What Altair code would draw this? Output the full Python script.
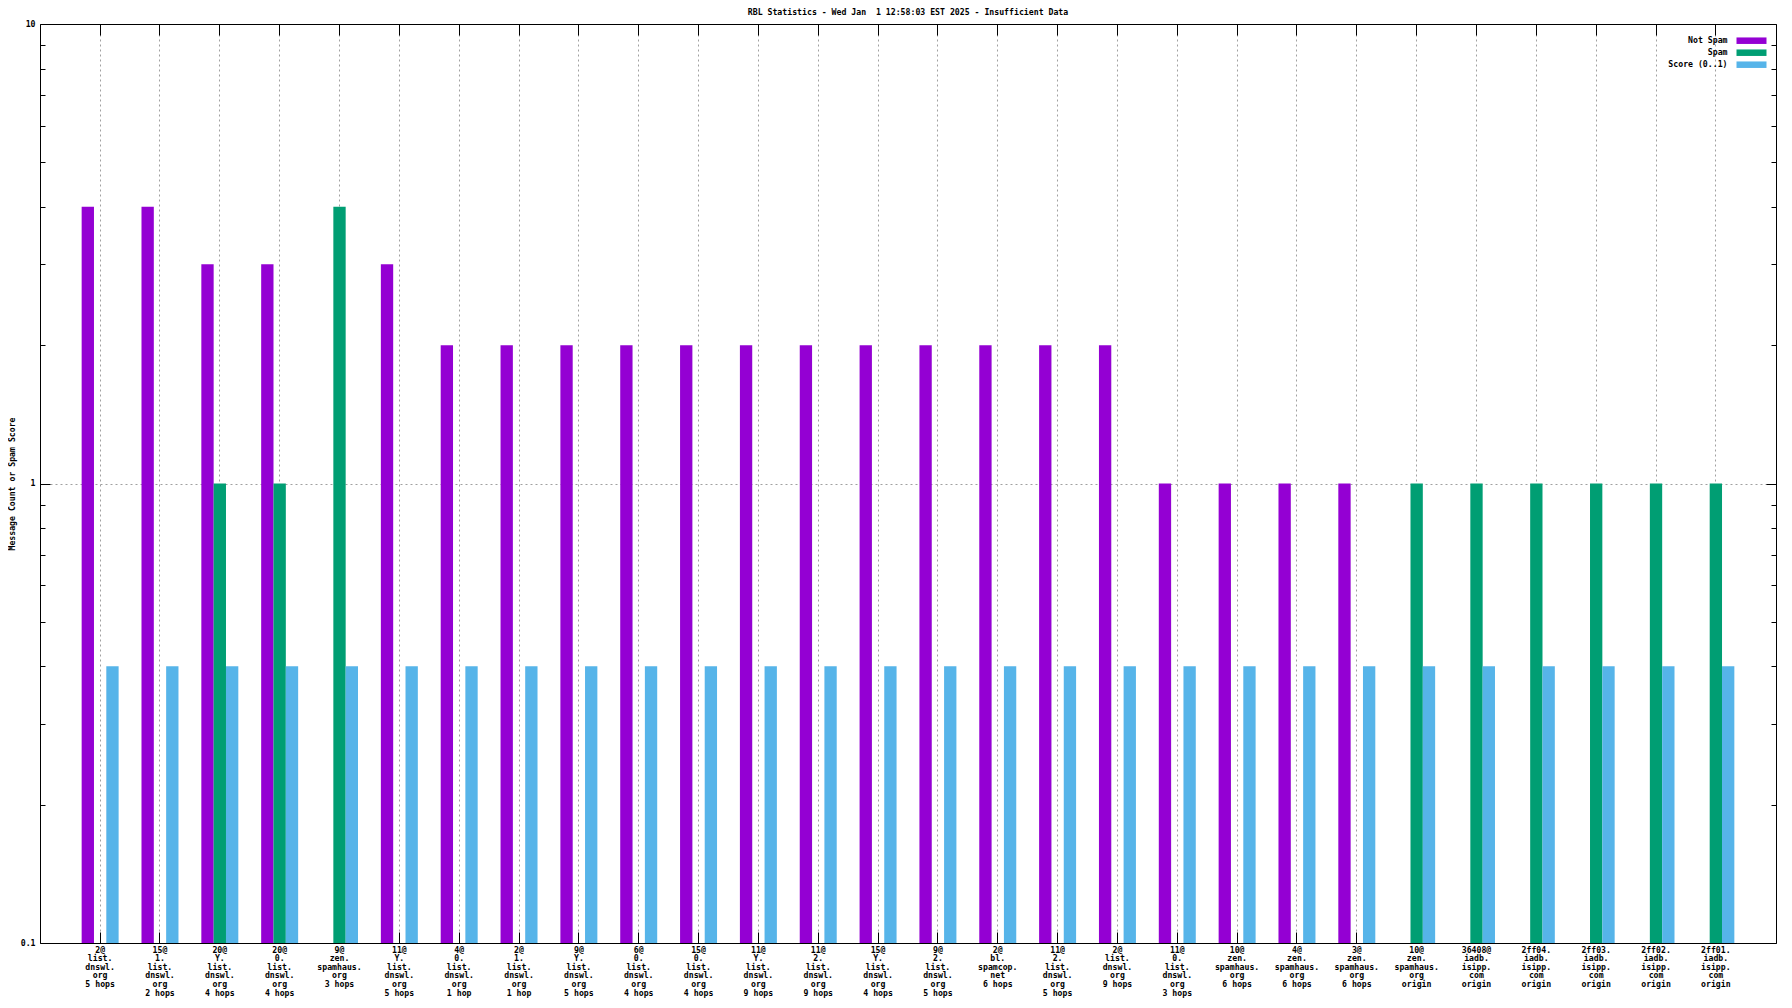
import altair as alt
import pandas as pd

# ---------------- data ----------------
labels = [
    "2@|list.|dnswl.|org|5 hops",
    "15@|1.|list.|dnswl.|org|2 hops",
    "20@|Y.|list.|dnswl.|org|4 hops",
    "20@|0.|list.|dnswl.|org|4 hops",
    "9@|zen.|spamhaus.|org|3 hops",
    "11@|Y.|list.|dnswl.|org|5 hops",
    "4@|0.|list.|dnswl.|org|1 hop",
    "2@|1.|list.|dnswl.|org|1 hop",
    "9@|Y.|list.|dnswl.|org|5 hops",
    "6@|0.|list.|dnswl.|org|4 hops",
    "15@|0.|list.|dnswl.|org|4 hops",
    "11@|Y.|list.|dnswl.|org|9 hops",
    "11@|2.|list.|dnswl.|org|9 hops",
    "15@|Y.|list.|dnswl.|org|4 hops",
    "9@|2.|list.|dnswl.|org|5 hops",
    "2@|bl.|spamcop.|net|6 hops",
    "11@|2.|list.|dnswl.|org|5 hops",
    "2@|list.|dnswl.|org|9 hops",
    "11@|0.|list.|dnswl.|org|3 hops",
    "10@|zen.|spamhaus.|org|6 hops",
    "4@|zen.|spamhaus.|org|6 hops",
    "3@|zen.|spamhaus.|org|6 hops",
    "10@|zen.|spamhaus.|org|origin",
    "36408@|iadb.|isipp.|com|origin",
    "2ff04.|iadb.|isipp.|com|origin",
    "2ff03.|iadb.|isipp.|com|origin",
    "2ff02.|iadb.|isipp.|com|origin",
    "2ff01.|iadb.|isipp.|com|origin",
]
not_spam = [4, 4, 3, 3, 0, 3, 2, 2, 2, 2, 2, 2, 2, 2, 2, 2, 2, 2, 1, 1, 1, 1, 0, 0, 0, 0, 0, 0]
spam = [0, 0, 1, 1, 4, 0, 0, 0, 0, 0, 0, 0, 0, 0, 0, 0, 0, 0, 0, 0, 0, 0, 1, 1, 1, 1, 1, 1]
score = [0.4, 0.4, 0.4, 0.4, 0.4, 0.4, 0.4, 0.4, 0.4, 0.4, 0.4, 0.4, 0.4, 0.4,
         0.4, 0.4, 0.4, 0.4, 0.4, 0.4, 0.4, 0.4, 0.4, 0.4, 0.4, 0.4, 0.4, 0.4]
series = ["Not Spam", "Spam", "Score (0..1)"]
colors = ["#9400D3", "#009E73", "#56B4E9"]
y_major = [0.1, 1, 10]
y_minor = [0.2, 0.3, 0.4, 0.5, 0.6, 0.7, 0.8, 0.9, 2, 3, 4, 5, 6, 7, 8, 9]
title_text = "RBL Statistics - Wed Jan\u00a0 1 12:58:03 EST 2025 - Insufficient Data"
y_title = "Message Count or Spam Score"

rows = []
for i, lab in enumerate(labels):
    for s, vals in zip(series, [not_spam, spam, score]):
        if vals[i] > 0:
            rows.append({"label": lab, "series": s, "value": vals[i]})
df = pd.DataFrame(rows)

FONT = "DejaVu Sans Mono"
FS = 8.2
FW = "bold"
W, H = 1736, 919
GRID = "#a0a0a0"

xscale = alt.Scale(domain=labels, paddingInner=0.382, paddingOuter=0.696)
yscale = alt.Scale(type="log", domain=[0.1, 10], nice=False)


def X(axis):
    return alt.X("label:N", scale=xscale, title=None, axis=axis)


def Y(axis):
    return alt.Y("value:Q", scale=yscale, title=None, axis=axis)


def blank(**kw):
    base = dict(labels=False, ticks=False, domain=False, grid=False, title=None)
    base.update(kw)
    return alt.Axis(**base)


# --- axes ---
x_labels = alt.Axis(
    orient="bottom", labelExpr="split(datum.label, '|')", labelAngle=0,
    labelAlign="center", labelBaseline="top", labelPadding=3,
    labelLineHeight=8.6, labelFont=FONT, labelFontSize=FS, labelFontWeight=FW,
    labelColor="black", labelOverlap=False, labelLimit=300, ticks=False, domain=False,
    grid=True, gridColor=GRID, gridDash=[2, 3], gridWidth=1,
    bandPosition=0.5, title=None,
)
y_labels = alt.Axis(
    orient="left", values=y_major, format="~g", labelFont=FONT, labelFontSize=FS,
    labelFontWeight=FW, labelColor="black", labelPadding=5, ticks=False, domain=False,
    grid=True, gridColor=GRID, gridDash=[2, 3], gridWidth=1,
    title=y_title, titleFont=FONT, titleFontSize=FS, titleFontWeight=FW,
    titleColor="black", titleAngle=270, titleX=-28, titleY=H / 2,
    titleAlign="center", titleBaseline="middle",
)

bars = alt.Chart(df).mark_bar().encode(
    x=X(x_labels),
    xOffset=alt.XOffset("series:N", scale=alt.Scale(domain=series, paddingInner=0, paddingOuter=0)),
    y=Y(y_labels),
    y2=alt.datum(0.1),
    color=alt.Color(
        "series:N",
        scale=alt.Scale(domain=series, range=colors),
        legend=alt.Legend(
            title=None, orient="none", legendX=1682.2, legendY=11.7,
            symbolType="M-3,-0.65L3,-0.65L3,0.65L-3,0.65Z", symbolSize=100,
            symbolStrokeWidth=0, symbolOpacity=1, symbolOffset=24.3,
            labelAlign="right", labelOffset={"expr": "-29"}, labelFont=FONT,
            labelFontSize=FS, labelFontWeight=FW, labelColor="black",
            rowPadding=3, padding=0, labelLimit=300,
        ),
    ),
)


def ghost(xaxis, yaxis):
    return alt.Chart(df).mark_bar(opacity=0).encode(
        x=X(xaxis), y=Y(yaxis), y2=alt.datum(0.1)
    )


frame1 = ghost(
    blank(orient="bottom", domain=True, domainColor="black", domainWidth=1, zindex=1),
    blank(orient="left", domain=True, domainColor="black", domainWidth=1, zindex=1),
)
frame2 = ghost(
    blank(orient="top", domain=True, domainColor="black", domainWidth=1, zindex=1),
    blank(orient="right", domain=True, domainColor="black", domainWidth=1, zindex=1),
)
ticks1 = ghost(
    blank(orient="bottom", ticks=True, tickSize=11, offset=-11, tickColor="black", bandPosition=0.5),
    blank(orient="left", values=y_major, ticks=True, tickSize=10, offset=-10, tickColor="black"),
)
ticks2 = ghost(
    blank(orient="top", ticks=True, tickSize=11, offset=-11, tickColor="black", bandPosition=0.5),
    blank(orient="right", values=y_major, ticks=True, tickSize=10, offset=-10, tickColor="black"),
)
minor1 = ghost(
    None,
    blank(orient="left", values=y_minor, ticks=True, tickSize=5, offset=-5, tickColor="black"),
)
minor2 = ghost(
    None,
    blank(orient="right", values=y_minor, ticks=True, tickSize=5, offset=-5, tickColor="black"),
)

chart = (
    alt.layer(bars, frame1, frame2, ticks1, ticks2, minor1, minor2)
    .resolve_axis(x="independent", y="independent")
    .properties(
        width=W, height=H,
        autosize=alt.AutoSizeParams(type="none"),
        padding={"left": 32, "top": 16, "right": 8, "bottom": 57},
        background="white",
        title=alt.Title(
            title_text, font=FONT, fontSize=FS, fontWeight=FW, color="black",
            anchor="middle", baseline="alphabetic", offset=10, dy=14,
        ),
    )
    .configure_view(stroke="transparent")
)

chart.save("out.html", embed_options={"renderer": "svg", "actions": False})
